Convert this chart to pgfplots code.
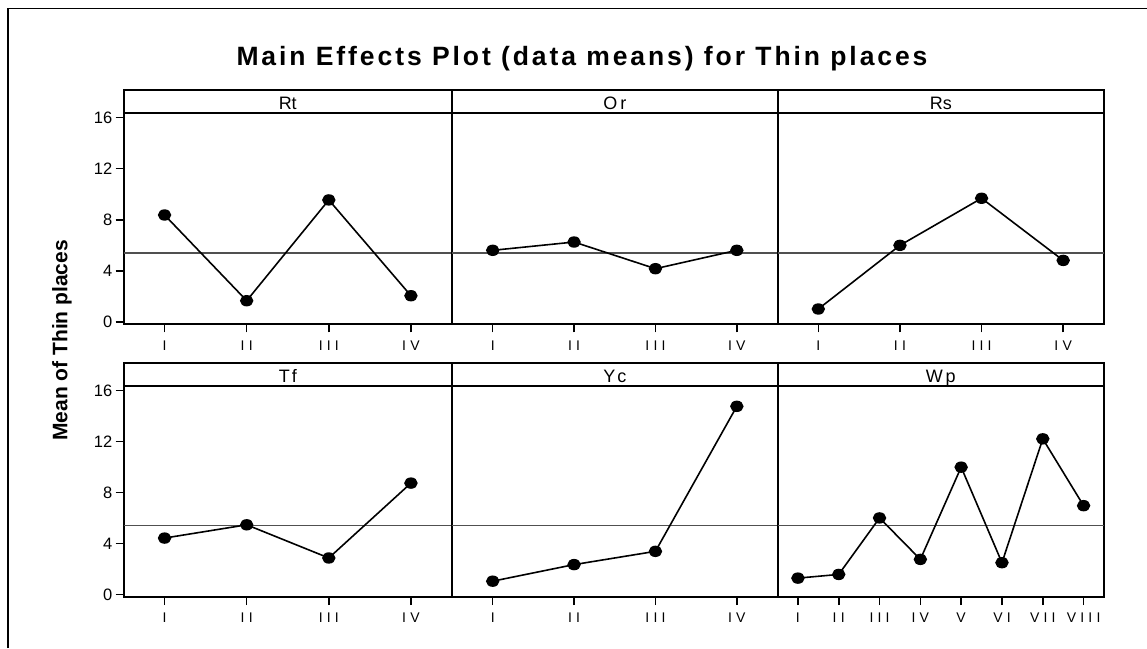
\documentclass[border=0pt]{standalone}
\usepackage{fontspec}
\setmainfont{Liberation Sans}
\newfontfamily\titlefont[LetterSpace=11]{Liberation Sans}
\newfontfamily\xtfont[LetterSpace=30]{Liberation Sans}
\usepackage{pgfplots}
\pgfplotsset{compat=1.18}
\definecolor{meangray}{HTML}{505050}
\pgfplotsset{
  panel/.style={
    scale only axis, height=234.3pt,
    anchor=south west,
    ymin=-0.2, ymax=18.17,
    axis line style={line width=2pt, black},
    tick align=outside, xtick pos=bottom, ytick pos=left,
    major tick length=8pt,
    tick style={line width=1.6pt, black},
    /pgf/number format/assume math mode=true,
    yticklabel style={font=\fontsize{16.5}{18}\selectfont, inner sep=3pt},
    xticklabel style={font=\xtfont\fontsize{14}{16}\selectfont, inner sep=4pt, yshift=-4pt},
    ytick=\empty,
    clip=false,
  },
  four/.style={xmin=0.5, xmax=4.5, xtick={1,2,3,4},
    xticklabels={I,II,III,IV}},
  eight/.style={xmin=0.5, xmax=8.5, xtick={1,2,3,4,5,6,7,8},
    xticklabels={I,II,III,IV,V,VI,VII,VIII}},
  first/.style={ytick={0,4,8,12,16}},
  data/.style={black, line width=1.6pt, mark=*, mark size=4.9pt,
    mark options={xscale=1.2, solid, fill=black}},
  meanl/.style={meangray, line width=1.8pt, mark=none},
}
\newcommand{\strip}[1]{%
  \draw[line width=2pt] (rel axis cs:0,0.9010) -- (rel axis cs:1,0.9010);
  \node[anchor=base, font=\fontsize{18}{20}\selectfont, inner sep=0pt]
    at (rel axis cs:0.5,0.9176) {#1};}
\begin{document}
\begin{tikzpicture}[x=1pt,y=1pt]
\useasboundingbox (0,0) rectangle (1147,648);
\draw[line width=1.3pt] (8,0) -- (8,639.7) -- (1147,639.7);
\node[anchor=base, inner sep=0pt, font=\titlefont\bfseries\fontsize{26.5}{30}\selectfont]
  at (582,582) {Main Effects Plot (data means) for Thin places};
\node[anchor=base, rotate=90, inner sep=0pt, font=\bfseries\fontsize{21}{24}\selectfont]
  at (67.3,307.6) {Mean of Thin places};
% ---- top row
\begin{axis}[panel, four, first, at={(123.5pt,323.7pt)}, width=328.5pt]
\addplot[meanl] coordinates {(0.5,5.41) (4.5,5.41)};
\addplot[data] coordinates {(1,8.37) (2,1.65) (3,9.55) (4,2.04)};
\strip{Rt}
\end{axis}
\begin{axis}[panel, four, at={(452pt,323.7pt)}, width=325.5pt]
\addplot[meanl] coordinates {(0.5,5.41) (4.5,5.41)};
\addplot[data] coordinates {(1,5.60) (2,6.25) (3,4.16) (4,5.60)};
\strip{O\kern3pt r}
\end{axis}
\begin{axis}[panel, four, at={(777.5pt,323.7pt)}, width=326.5pt]
\addplot[meanl] coordinates {(0.5,5.41) (4.5,5.41)};
\addplot[data] coordinates {(1,1.00) (2,5.99) (3,9.68) (4,4.81)};
\strip{Rs}
\end{axis}
% ---- bottom row
\begin{axis}[panel, four, first, at={(123.5pt,51pt)}, width=328.5pt]
\addplot[meanl] coordinates {(0.5,5.41) (4.5,5.41)};
\addplot[data] coordinates {(1,4.42) (2,5.46) (3,2.86) (4,8.73)};
\strip{T\kern2pt f}
\end{axis}
\begin{axis}[panel, four, at={(452pt,51pt)}, width=325.5pt]
\addplot[meanl] coordinates {(0.5,5.41) (4.5,5.41)};
\addplot[data] coordinates {(1,1.04) (2,2.34) (3,3.38) (4,14.75)};
\strip{Y\kern2pt c}
\end{axis}
\begin{axis}[panel, eight, at={(777.5pt,51pt)}, width=326.5pt]
\addplot[meanl] coordinates {(0.5,5.41) (8.5,5.41)};
\addplot[data] coordinates {(1,1.28) (2,1.57) (3,6.00) (4,2.75) (5,9.98) (6,2.49) (7,12.20) (8,6.96)};
\strip{W\kern3pt p}
\end{axis}
\end{tikzpicture}
\end{document}
